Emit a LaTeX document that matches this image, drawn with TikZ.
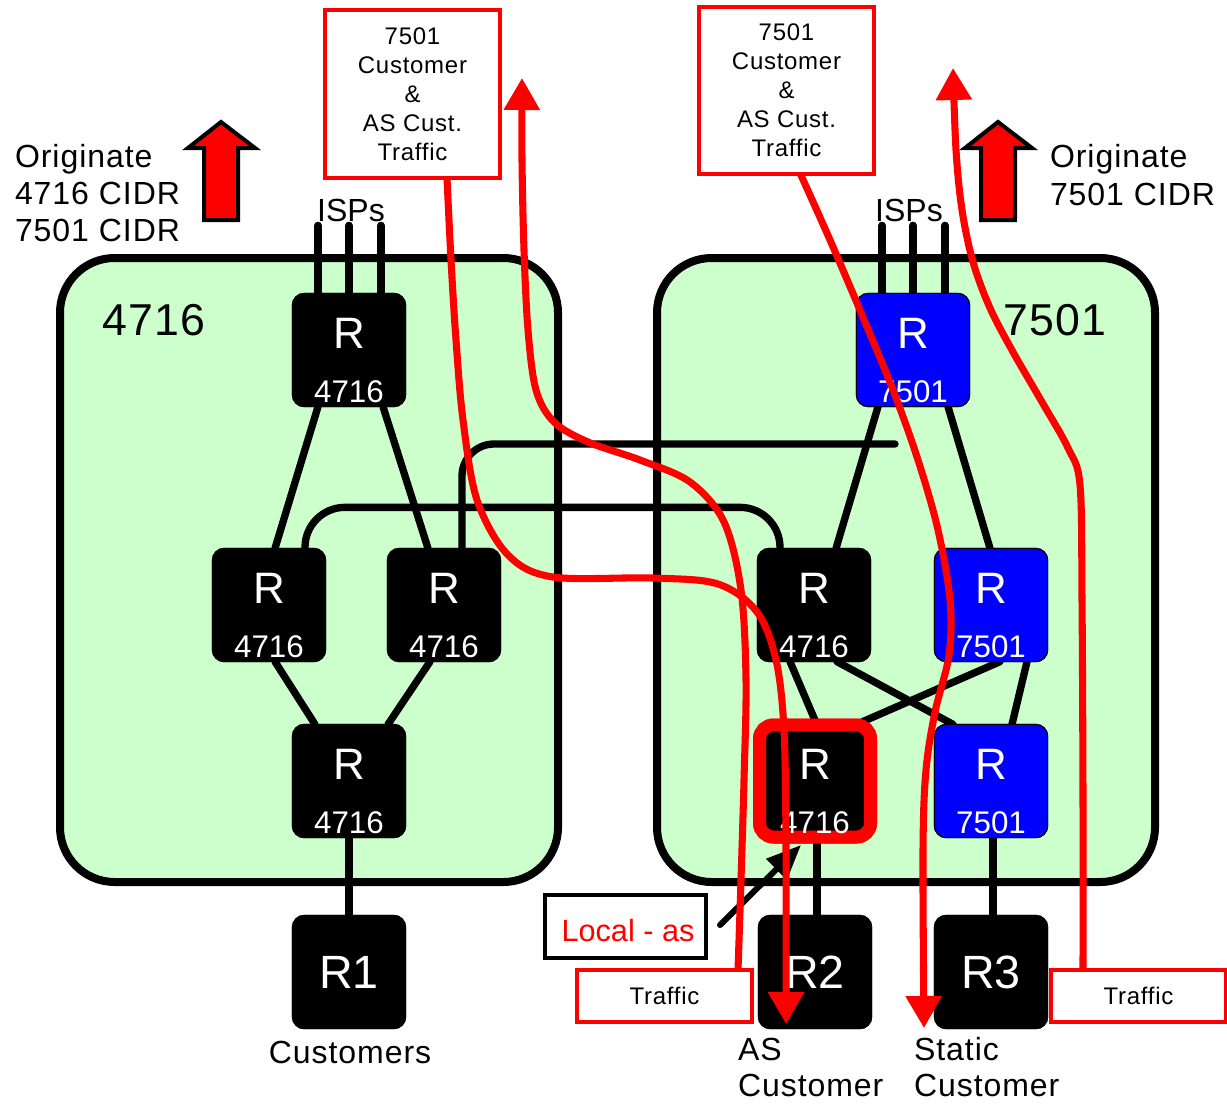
\documentclass[tikz,border=0pt]{standalone}
\usepackage{fontspec}
\setmainfont{Liberation Sans}
\newfontfamily\spc[LetterSpace=3]{Liberation Sans}
\usetikzlibrary{arrows.meta,calc}
\definecolor{asgreen}{HTML}{CCFFCC}
\definecolor{rblue}{HTML}{0000FF}
\definecolor{rred}{HTML}{FF0000}
\newcommand\rtrnode[5]{%
  \node[#1] (#2) at (#3,#4) {};
  \node[rtrLetter] (#2-R) at (#3,#4-2) {R};
  \node[rtrNum] (#2-n) at (#3,#4+52) {#5};
}
\begin{document}
\begin{tikzpicture}[x=0.75pt,y=-0.75pt,
  every node/.style={inner sep=0pt,outer sep=0pt},
  asbox/.style={draw=black,fill=asgreen,line width=6pt,rounded corners=41pt,minimum width=373.5pt,minimum height=468pt},
  rtr/.style={draw=black,line width=0.8pt,fill=black,rounded corners=9pt,minimum width=85pt,minimum height=85pt},
  rtrB/.style={rtr,fill=rblue},
  rtrX/.style={draw=rred,line width=9.75pt,fill=black,rounded corners=10.5pt,minimum width=83.25pt,minimum height=84pt},
  rtrLetter/.style={text=white,font=\fontsize{33}{36}\selectfont,anchor=base},
  rtrNum/.style={text=white,font=\fontsize{23.5}{26}\selectfont,anchor=base},
  custrtr/.style={rtr,text=white,font=\fontsize{35}{38}\selectfont},
  link/.style={draw=black,line width=5.5pt,line cap=round},
  flow/.style={draw=rred,line width=5.3pt,line cap=round,line join=round},
  ftip/.style={-{Triangle[length=24pt,width=26pt]}},
  redbox/.style={draw=rred,line width=3pt,fill=white},
  lbl/.style={font=\fontsize{24}{28}\selectfont\spc,anchor=base west},
  boxtxt/.style={font=\fontsize{18}{21.75}\selectfont\spc,align=center},
  bigup/.style={draw=black,fill=rred,line width=3pt,line join=miter}
]
\useasboundingbox (0,0) rectangle (1227,1103);

% AS boxes
\node[asbox] (as4716) at (309,570) {};
\node[asbox] (as7501) at (906,570) {};
\node[font=\fontsize{33.5}{36}\selectfont\spc,anchor=base west] (lab4716) at (102,335) {4716};
\node[font=\fontsize{33.5}{36}\selectfont\spc,anchor=base west] (lab7501) at (1003,335) {7501};

% router placeholders (positions) for links
\node[rtr] (ltop) at (349,350) {};
\node[rtr] (lml) at (269,605) {};
\node[rtr] (lmr) at (444,605) {};
\node[rtr] (lbot) at (349,781) {};
\node[custrtr] (R1) at (349,972) {};
\node[rtrB] (rtop) at (913,350) {};
\node[rtr] (rml) at (814,605) {};
\node[rtrB] (rmr) at (991,605) {};
\node[rtrX] (rbl) at (815,781) {};
\node[rtrB] (rbr) at (991,781) {};
\node[custrtr] (R2) at (815,972) {};
\node[custrtr] (R3) at (991,972) {};

% links
\foreach \dx in {-31,0,32} {
  \draw[link] ($(ltop.north)+(\dx,0)$) -- ++(0,-68);
  \draw[link] ($(rtop.north)+(\dx,0)$) -- ++(0,-68);
}
\draw[link] ($(ltop.south)+(-31,0)$) -- ($(lml.north)+(6,0)$);
\draw[link] ($(ltop.south)+(34,0)$) -- ($(lmr.north)+(-16,0)$);
\draw[link] ($(lml.south)+(6,0)$) -- ($(lbot.north)+(-34,0)$);
\draw[link] ($(lmr.south)+(-14,0)$) -- ($(lbot.north)+(39,0)$);
\draw[link] (lbot.south) -- (R1.north);
\coordinate (xEnd) at (895,444);
\draw[link,rounded corners=30pt] ($(lml.north)+(36,0)$) |- ($(rml.north)+(-34,-41)$) -- ($(rml.north)+(-34,0)$);
\draw[link,rounded corners=24pt] ($(lmr.north)+(18,0)$) |- (xEnd);
\draw[link] ($(rtop.south)+(-35,0)$) -- ($(rml.north)+(22,0)$);
\draw[link] ($(rtop.south)+(35,0)$) -- ($(rmr.north)+(-1,0)$);
\draw[link] ($(rml.south)+(-24,0)$) -- ($(rbl.north)+(2,0)$);
\draw[link] ($(rml.south)+(23,0)$) -- ($(rbr.north)+(-38,0)$);
\draw[link] ($(rmr.south)+(9,0)$) -- ($(rbl.north)+(40,0)$);
\draw[link] ($(rmr.south)+(36,0)$) -- ($(rbr.north)+(21,0)$);
\draw[link] ($(rbl.south)+(2,0)$) -- ($(R2.north)+(2,0)$);
\draw[link] ($(rbr.south)+(2,0)$) -- ($(R3.north)+(2,0)$);

% routers drawn over links
\rtrnode{rtr}{ltop}{349}{350}{4716}
\rtrnode{rtr}{lml}{269}{605}{4716}
\rtrnode{rtr}{lmr}{444}{605}{4716}
\rtrnode{rtr}{lbot}{349}{781}{4716}
\rtrnode{rtrB}{rtop}{913}{350}{7501}
\rtrnode{rtr}{rml}{814}{605}{4716}
\rtrnode{rtrB}{rmr}{991}{605}{7501}
\rtrnode{rtrX}{rbl}{815}{781}{4716}
\rtrnode{rtrB}{rbr}{991}{781}{7501}
\node[custrtr] (R1) at (349,972) {R1};
\node[custrtr] (R2) at (815,972) {R2};
\node[custrtr] (R3) at (991,972) {R3};

% ISPs labels
\node[font=\fontsize{24}{28}\selectfont,anchor=base] (ispL) at (351,221) {ISPs};
\node[font=\fontsize{24}{28}\selectfont,anchor=base] (ispR) at (909,221) {ISPs};

% Originate labels
\node[lbl] (oL1) at (15,167) {Originate};
\node[lbl] (oL2) at (15,204) {4716 CIDR};
\node[lbl] (oL3) at (15,241) {7501 CIDR};
\node[lbl] (oR1) at (1050,167) {Originate};
\node[lbl] (oR2) at (1050,205) {7501 CIDR};

% big up arrows
\draw[bigup] (204,220) -- (204,148) -- (188,148) -- (221,122) -- (255,148) -- (238,148) -- (238,220) -- cycle;
\draw[bigup] (981,220) -- (981,148) -- (965,148) -- (998,122) -- (1032,148) -- (1015,148) -- (1015,220) -- cycle;

% bottom labels
\node[lbl,anchor=base] (cust1) at (350,1063) {Customers};
\node[lbl] (asc1) at (738,1060) {AS};
\node[lbl] (asc2) at (738,1096) {Customer};
\node[lbl] (stc1) at (914,1060) {Static};
\node[lbl] (stc2) at (914,1096) {Customer};

% Local-as box and arrow
\node[draw=black,line width=2.5pt,minimum width=120.75pt,minimum height=47.25pt,fill=white] (localas) at (625.5,926.5) {};
\node[text=rred,font=\fontsize{23}{28}\selectfont,anchor=base] (localastxt) at (628,941) {Local - as};
\coordinate (lasStart) at (720,925);
\coordinate (lasTip) at (801,845);
\draw[black,line width=4.5pt,line cap=round,-{Triangle[length=26pt,width=21pt]}] (lasStart) -- (lasTip);

% red traffic flows
\coordinate (aStart) at (447,178);
\coordinate (aTip) at (786,1024);
\draw[flow,ftip] plot[smooth,tension=0.55] coordinates {(aStart) (451,260) (456,340) (463,420) (477,500) (508,555) (553,577) (653,578) (718,584) (757,612) (776,660) (784,730) (786,850) (aTip)};
\coordinate (bStart) at (738,970);
\coordinate (bTip) at (522,78);
\draw[flow,ftip] plot[smooth,tension=0.55] coordinates {(bStart) (741,880) (744,780) (746,680) (741,590) (724,522) (690,482) (640,460) (588,442) (554,422) (536,390) (528,330) (524,250) (522,160) (bTip)};
\coordinate (cStart) at (800,173);
\coordinate (cTip) at (924,1028);
\draw[flow,ftip] plot[smooth,tension=0.55] coordinates {(cStart) (830,240) (862,315) (893,390) (918,460) (938,530) (950,600) (949,655) (935,712) (926,770) (923,850) (cTip)};
\coordinate (dStart) at (1083,970);
\coordinate (dTip) at (953,68);
\draw[flow,ftip] plot[smooth,tension=0.55] coordinates {(dStart) (1083,800) (1082,600) (1080,485) (1068,448) (1042,402) (1013,352) (990,308) (973,262) (962,210) (956,150) (dTip)};

% red text boxes
\node[redbox,boxtxt,minimum width=131.25pt,minimum height=126pt] (boxL) at (412.5,94) {7501\\Customer\\\&\\AS Cust.\\Traffic};
\node[redbox,boxtxt,minimum width=131.25pt,minimum height=125pt] (boxR) at (786.5,90.5) {7501\\Customer\\\&\\AS Cust.\\Traffic};
\node[redbox,boxtxt,minimum width=131.25pt,minimum height=39pt] (trafL) at (664.5,996) {Traffic};
\node[redbox,boxtxt,minimum width=131.25pt,minimum height=39pt] (trafR) at (1138.5,996) {Traffic};
\end{tikzpicture}
\end{document}
